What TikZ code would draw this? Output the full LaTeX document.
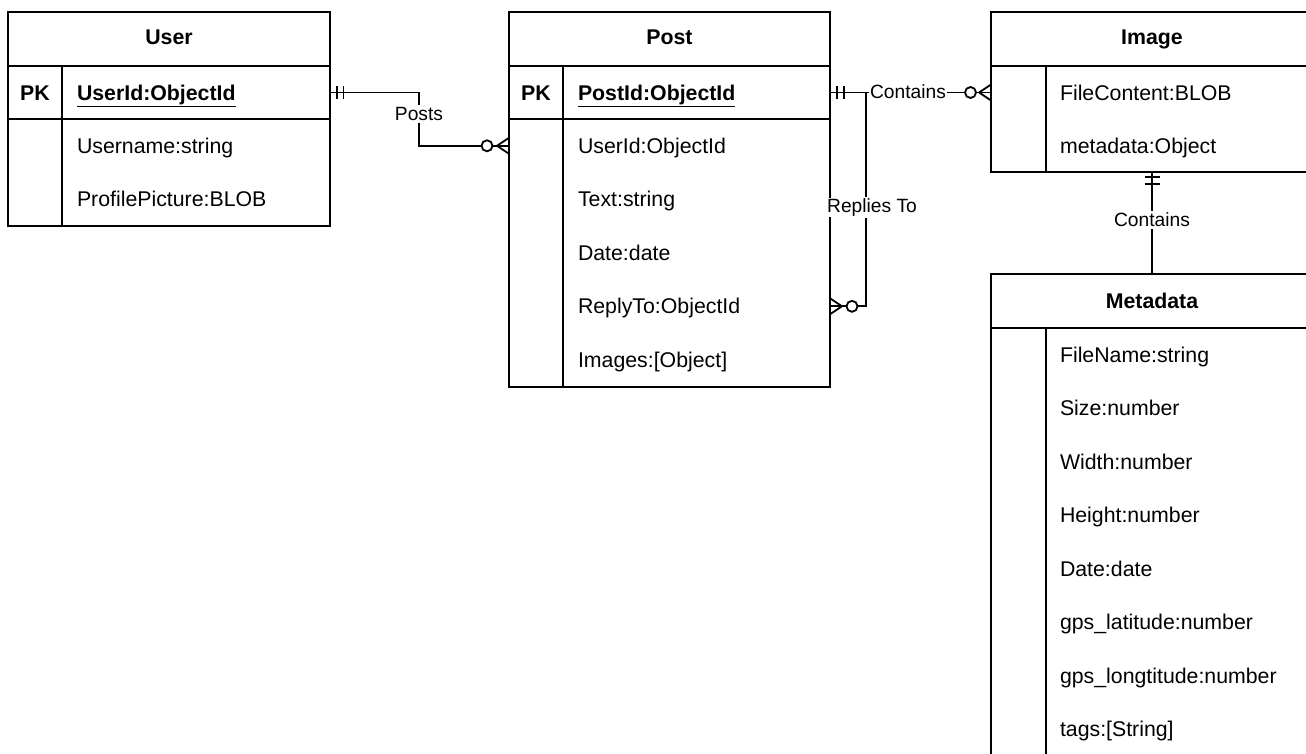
\documentclass[tikz,border=0pt]{standalone}
\usepackage{fontspec}
\setmainfont{Liberation Sans}
\begin{document}
\begin{tikzpicture}[x=1pt,y=-1pt,line width=2pt,
  tbl/.style={draw=black,anchor=north west,inner sep=0,outer sep=0},
  attr/.style={anchor=base west,inner sep=0,font=\fontsize{21.3}{25}\selectfont},
  key/.style={attr,font=\fontsize{21.3}{25}\selectfont\bfseries},
  ttl/.style={anchor=base,inner sep=0,font=\fontsize{21.3}{25}\selectfont\bfseries},
  lbl/.style={fill=white,inner sep=1pt,font=\fontsize{19.2}{23}\selectfont},
  rel/.style={draw=black,line width=1.8pt}]

\useasboundingbox (0,0) rectangle (1306,753);
\clip (0,0) rectangle (1306,753);

% ---------- User ----------
\node[tbl,minimum width=322,minimum height=214] (user) at (8,12) {};
\draw (8,66) -- (330,66) (8,119) -- (330,119) (62,66) -- (62,226);
\node[ttl] (userT) at (169,44.6) {User};
\node[ttl] (userPK) at (35,100.1) {PK};
\node[key] (userId) at (76,100.1) {\underline{UserId:ObjectId}};
\node[attr] (userName) at (76,153.4) {Username:string};
\node[attr] (userPic) at (76,206.9) {ProfilePicture:BLOB};

% ---------- Post ----------
\node[tbl,minimum width=321,minimum height=375] (post) at (509,12) {};
\draw (509,66) -- (830,66) (509,119) -- (830,119) (563,66) -- (563,387);
\node[ttl] (postT) at (669.5,44.6) {Post};
\node[ttl] (postPK) at (536,100.1) {PK};
\node[key] (postId) at (577,100.1) {\underline{PostId:ObjectId}};
\node[attr] (postUser) at (577,153.4) {UserId:ObjectId};
\node[attr] (postText) at (577,206.9) {Text:string};
\node[attr] (postDate) at (577,260.4) {Date:date};
\node[attr] (postReply) at (577,313.9) {ReplyTo:ObjectId};
\node[attr] (postImgs) at (577,367.4) {Images:[Object]};

% ---------- Image ----------
\node[tbl,minimum width=322,minimum height=160] (image) at (991,12) {};
\draw (991,66) -- (1313,66) (1046,66) -- (1046,172);
\node[ttl] (imageT) at (1152,44.6) {Image};
\node[attr] (imgFile) at (1059,100.3) {FileContent:BLOB};
\node[attr] (imgMeta) at (1059,153.8) {metadata:Object};

% ---------- Metadata ----------
\node[tbl,minimum width=322,minimum height=520] (meta) at (991,274) {};
\draw (991,328) -- (1313,328) (1046,328) -- (1046,794);
\node[ttl] (metaT) at (1152,308.6) {Metadata};
\node[attr] (mName) at (1059,362.4) {FileName:string};
\node[attr] (mSize) at (1059,415.9) {Size:number};
\node[attr] (mWidth) at (1059,469.4) {Width:number};
\node[attr] (mHeight) at (1059,522.9) {Height:number};
\node[attr] (mDate) at (1059,576.4) {Date:date};
\node[attr] (mLat) at (1059,629.9) {gps\_latitude:number};
\node[attr] (mLon) at (1059,683.4) {gps\_longtitude:number};
\node[attr] (mTags) at (1059,736.9) {tags:[String]};

% ---------- connector end points ----------
\coordinate (uPkR) at (330,92.5);
\coordinate (pUidL) at (509,145.8);
\coordinate (pPkR) at (830,92.5);
\coordinate (iFileL) at (991,92.5);
\coordinate (rJoin) at (866,92.5);
\coordinate (pReplyR) at (830,306.3);
\coordinate (iBot) at (1152,172);
\coordinate (mTop) at (1152,274);

% User -- Post : Posts
\node[lbl] (posts) at (419,114) {Posts};
\draw[rel] (uPkR) -| (posts);
\draw[rel] (posts) |- ([xshift=-27.5]pUidL);
\draw[rel] ([xshift=-16.5]pUidL) -- (pUidL);
\draw[rel] ([xshift=7]uPkR) ++(0,-6.5) -- ++(0,13);
\draw[rel] ([xshift=13.5]uPkR) ++(0,-6.5) -- ++(0,13);
\draw[rel,fill=white] ([xshift=-22]pUidL) circle (5.5);
\draw[rel] ([xshift=-12]pUidL) -- ([yshift=-8]pUidL);
\draw[rel] ([xshift=-12]pUidL) -- ([yshift=8]pUidL);

% Post -- Image : Contains
\node[lbl,inner sep=0.5pt] (cont1) at (908,91.5) {Contains};
\draw[rel] (pPkR) -- (pPkR -| cont1.west);
\draw[rel] (iFileL -| cont1.east) -- ([xshift=-26]iFileL);
\draw[rel] ([xshift=-15]iFileL) -- (iFileL);
\draw[rel] ([xshift=7]pPkR) ++(0,-6.5) -- ++(0,13);
\draw[rel] ([xshift=14]pPkR) ++(0,-6.5) -- ++(0,13);
\draw[rel,fill=white] ([xshift=-20.5]iFileL) circle (5.5);
\draw[rel] ([xshift=-12]iFileL) -- ([yshift=-8]iFileL);
\draw[rel] ([xshift=-12]iFileL) -- ([yshift=8]iFileL);

% Post -- Post : Replies To
\node[lbl] (reply) at (872,207.5) {Replies To};
\draw[rel] (rJoin) -- (rJoin |- reply.north);
\draw[rel] (rJoin |- reply.south) |- ([xshift=27.5]pReplyR);
\draw[rel] ([xshift=16.5]pReplyR) -- (pReplyR);
\draw[rel,fill=white] ([xshift=22]pReplyR) circle (5.5);
\draw[rel] ([xshift=12]pReplyR) -- ([yshift=-8]pReplyR);
\draw[rel] ([xshift=12]pReplyR) -- ([yshift=8]pReplyR);

% Image -- Metadata : Contains (ticks just below the Image box)
\node[lbl] (cont2) at (1152,220) {Contains};
\draw[rel] (iBot) -- (cont2.north);
\draw[rel] (cont2.south) -- (mTop);
\draw[rel] ([yshift=-5]iBot) ++(-7.5,0) -- ++(15,0);
\draw[rel] ([yshift=-12]iBot) ++(-7.5,0) -- ++(15,0);
\end{tikzpicture}
\end{document}
